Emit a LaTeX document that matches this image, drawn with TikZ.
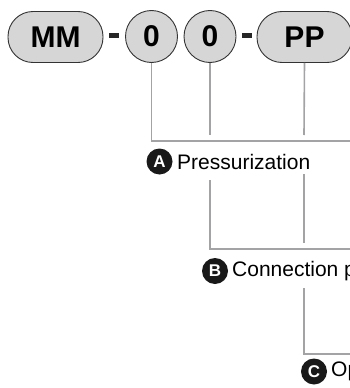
\documentclass[tikz,border=0pt]{standalone}
\usepackage{fontspec}
\setmainfont{Liberation Sans}
\usetikzlibrary{positioning}
\definecolor{pillgray}{HTML}{D6D6D6}
\definecolor{leadgray}{HTML}{A3A3A5}
\begin{document}
\begin{tikzpicture}[x=1pt,y=-1pt,
	  pill/.style={draw=black!80,fill=pillgray,line width=0.9pt,rounded corners=25pt,minimum width=95pt,minimum height=51pt,inner sep=0pt,font=\fontsize{30}{30}\selectfont\bfseries},
	  disc/.style={draw=black!80,fill=pillgray,line width=0.9pt,circle,minimum size=52pt,inner sep=0pt,font=\fontsize{30}{30}\selectfont\bfseries},
	  bar/.style={fill=black!85,minimum width=10pt,minimum height=5pt,inner sep=0pt},
	  badge/.style={circle,fill=black!90,text=white,minimum size=26pt,inner sep=0pt,font=\fontsize{17}{17}\selectfont\bfseries},
	  caption/.style={inner sep=0pt,anchor=west,font=\fontsize{21}{25}\selectfont},
	  lead/.style={draw=leadgray,line width=1.6pt}]
	  \useasboundingbox (0,0) rectangle (350,388);
	  \clip (0,0) rectangle (350,388);
	  \node[pill] (mm) at (55.5,37) {MM};
	  \node[bar] (dasha) at (114,35) {};
	  \node[disc] (zeroa) at (151.5,36.5) {0};
	  \node[disc] (zerob) at (210,36.5) {0};
	  \node[bar] (dashb) at (247,35) {};
	  \node[pill] (pp) at (304.5,37) {PP};
	  \node[badge] (ba) at (159.5,161.5) {A};
	  \node[caption] (ta) at (177,162) {Pressurization};
	  \node[badge] (bb) at (215,271) {B};
	  \node[caption] (tb) at (232,271) {Connection p};
	  \node[badge] (bc) at (314,371.5) {C};
	  \node[caption] (tc) at (331,371.5) {Op};
	  % free ends of the leads
	  \coordinate (ea) at (356,141);
	  \coordinate (eb) at (356,249);
	  \coordinate (ec) at (356,354);
	  \coordinate (b1) at (210,135);
	  \coordinate (b2) at (210,180);
	  \coordinate (c1) at (304,135);
	  \coordinate (c2) at (304,174);
	  \coordinate (c3) at (304,243);
	  \coordinate (c4) at (304,288);
	  \draw[lead] (zeroa.south) |- (ea);
	  \draw[lead] (zerob.south) -- (b1);
	  \draw[lead] (b2) |- (eb);
	  \draw[lead] (pp.south) -- (c1);
	  \draw[lead] (c2) -- (c3);
	  \draw[lead] (c4) |- (ec);
	\end{tikzpicture}
\end{document}
